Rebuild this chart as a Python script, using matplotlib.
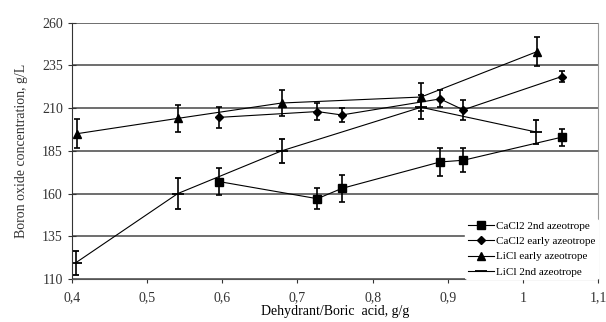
import numpy as np
import matplotlib
matplotlib.use("Agg")
import matplotlib.pyplot as plt
from matplotlib.ticker import FuncFormatter
from matplotlib.lines import Line2D

plt.rcParams['font.family'] = ['Liberation Serif', 'DejaVu Serif']

# CaCl2 2nd azeotrope (squares)
x_ca2 = [0.596, 0.7265, 0.759, 0.8898, 0.9208, 1.0517]
y_ca2 = [167, 157, 163, 178.5, 179.5, 193]
e_ca2 = [8, 6, 8, 8, 7, 5]
# CaCl2 early azeotrope (diamonds)
x_cae = [0.596, 0.7265, 0.759, 0.8898, 0.9208, 1.0517]
y_cae = [204.6, 208, 206, 215.4, 209, 228.5]
e_cae = [6, 5, 4, 5, 6, 3]
# LiCl early azeotrope (triangles)
x_lie = [0.406, 0.5407, 0.679, 0.8645, 1.0184]
y_lie = [195, 204, 213, 216.5, 243]
e_lie = [8.5, 8, 7.5, 8, 8.5]
# LiCl 2nd azeotrope (dashes)
x_li2 = [0.405, 0.5407, 0.679, 0.8645, 1.018]
y_li2 = [119.5, 160, 185, 210.5, 196]
e_li2 = [7, 9, 7, 7, 7]

labels = ['CaCl2 2nd azeotrope', 'CaCl2 early azeotrope',
          'LiCl early azeotrope', 'LiCl 2nd azeotrope']
xticks = [0.4, 0.5, 0.6, 0.7, 0.8, 0.9, 1.0, 1.1]
yticks = [110, 135, 160, 185, 210, 235, 260]

fig = plt.figure(figsize=(6.06, 3.22), dpi=100)
ax = fig.add_axes([0.1188, 0.1335, 0.868, 0.796])

kw = dict(color='black', lw=0.8, elinewidth=1.2, capsize=2, capthick=1.2, ecolor='black')
styles = [dict(marker='s', ms=6), dict(marker='D', ms=4.5),
          dict(marker='^', ms=6), dict(marker='_', ms=9, mew=1.3)]
data = [(x_ca2, y_ca2, e_ca2), (x_cae, y_cae, e_cae),
        (x_lie, y_lie, e_lie), (x_li2, y_li2, e_li2)]
handles = []
for (x, y, e), st, lab in zip(data, styles, labels):
    ax.errorbar(x, y, yerr=e, **st, **kw)
    handles.append(Line2D([], [], color='black', lw=0.8, **st))

ax.set_xlim(0.4, 1.1)
ax.set_ylim(110, 260)
ax.set_xticks(xticks)
ax.set_yticks(yticks)

def fmt(v, pos):
    s = ('%.1f' % v).rstrip('0').rstrip('.')
    return s.replace('.', ',')
ax.xaxis.set_major_formatter(FuncFormatter(fmt))

ax.yaxis.grid(True, color='#555555', lw=1.2)
ax.set_axisbelow(True)
ax.spines['top'].set_visible(False)
ax.spines['right'].set_color('#999999')
ax.spines['left'].set_color('#333333')
ax.spines['bottom'].set_color('#555555')
ax.tick_params(axis='y', direction='inout', length=6, labelsize=10, colors='#333333')
ax.tick_params(axis='x', direction='out', length=3, labelsize=10, colors='#333333', pad=6)

ax.set_xlabel('Dehydrant/Boric  acid, g/g', fontsize=10, labelpad=0)
ax.set_ylabel('Boron oxide concentration, g/L', fontsize=10, labelpad=10, color='#333333')

leg = ax.legend(handles, labels, loc='lower right', bbox_to_anchor=(1.0, 0.0), frameon=True,
                fontsize=8, handlelength=2.4, handletextpad=0.2, labelspacing=0.5,
                borderpad=0.2, borderaxespad=0.0)
leg.get_frame().set_edgecolor('white')
leg.get_frame().set_facecolor('white')
leg.get_frame().set_alpha(1)

fig.savefig('out.png', dpi=100)
